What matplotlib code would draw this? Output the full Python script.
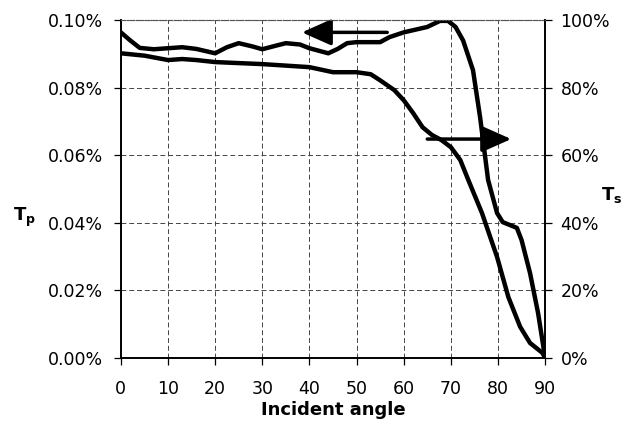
import matplotlib.pyplot as plt

plt.rcParams['font.family'] = ['DejaVu Sans']

# Tp curve (left axis, %)
tp_angle = [0, 2, 4, 7, 10, 13, 16, 20, 22.5, 25, 28, 30, 33, 35, 38, 40, 44, 46, 48,
            50, 55, 57, 60, 65, 67.7, 69.4, 71, 72.6, 74.7, 76.2, 77.9, 79.8, 81, 84, 85,
            86.8, 88.5, 90]
tp_val = [0.0964, 0.0940, 0.0918, 0.0914, 0.0917, 0.0920, 0.0915, 0.0902, 0.0920, 0.0932,
          0.0922, 0.0914, 0.0925, 0.0932, 0.0928, 0.0917, 0.0902, 0.0915, 0.0932,
          0.0935, 0.0935, 0.0950, 0.0964, 0.0980, 0.0998, 0.0998, 0.0980, 0.0940, 0.0852,
          0.0713, 0.0527, 0.0429, 0.0402, 0.0385, 0.0349, 0.0251, 0.0133, 0.0]

# Ts curve (right axis, %)
ts_angle = [0, 5, 10, 13, 16, 20, 30, 40, 45, 50, 53, 55, 58, 60, 62, 64, 66, 68, 70,
            72, 73.7, 76.6, 79.8, 82.2, 84.7, 86.8, 89.4, 90]
ts_val = [90.2, 89.5, 88.2, 88.5, 88.2, 87.6, 87.0, 86.1, 84.6, 84.6, 84.0, 82.2, 79.3,
          76.3, 72.5, 68.3, 66.0, 64.5, 62.4, 58.6, 52.7, 42.9, 29.9, 18.0, 9.2, 4.4,
          1.5, 0]

x_ticks = list(range(0, 91, 10))
tp_ticks = [0, 0.02, 0.04, 0.06, 0.08, 0.10]
ts_ticks = [0, 20, 40, 60, 80, 100]

fig = plt.figure(figsize=(6.23, 4.21), dpi=100)
ax = fig.add_axes([0.194, 0.150, 0.681, 0.802])
ax2 = ax.twinx()

ax.plot(tp_angle, tp_val, color='black', lw=3.2, solid_capstyle='round',
        solid_joinstyle='round')
ax2.plot(ts_angle, ts_val, color='black', lw=3.2, solid_capstyle='round',
         solid_joinstyle='round')

ax.set_xlim(0, 90)
ax.set_ylim(0, 0.10)
ax2.set_ylim(0, 100)

ax.set_xticks(x_ticks)
ax.set_yticks(tp_ticks)
ax.set_yticklabels(['%.2f%%' % v for v in tp_ticks])
ax2.set_yticks(ts_ticks)
ax2.set_yticklabels(['%d%%' % v for v in ts_ticks])

ax.grid(True, color='#444444', lw=0.7, linestyle=(0, (5, 3)))

for a in (ax, ax2):
    a.tick_params(labelsize=12.5, length=5, width=0.9, color='black')
    a.spines['top'].set_linestyle(':')
    a.spines['top'].set_color('#555555')
    a.spines['left'].set_linewidth(1.2)
    a.spines['right'].set_linewidth(1.2)
    a.spines['bottom'].set_linewidth(1.2)
ax.tick_params(axis='x', pad=11)
ax.tick_params(axis='y', pad=8)
ax2.tick_params(axis='y', pad=6)

fig.text(0.535, 0.025, 'Incident angle', fontsize=13, fontweight='bold',
         ha='center', va='center')

fig.text(0.021, 0.475, r'T$_\mathregular{p}$', fontsize=13, fontweight='bold')
fig.text(0.965, 0.525, r'T$_\mathregular{s}$', fontsize=13, fontweight='bold')

# arrows pointing to each curve's axis
ax.annotate('', xy=(38.4, 0.0964), xytext=(56.5, 0.0964),
            arrowprops=dict(arrowstyle='-|>,head_length=0.9,head_width=0.4',
                            lw=2.5, color='black', mutation_scale=20,
                            shrinkA=0, shrinkB=0))
ax2.annotate('', xy=(82.8, 64.8), xytext=(65, 64.8),
             arrowprops=dict(arrowstyle='-|>,head_length=0.9,head_width=0.4',
                             lw=2.5, color='black', mutation_scale=20,
                             shrinkA=0, shrinkB=0))

fig.savefig('out.png', dpi=100)
